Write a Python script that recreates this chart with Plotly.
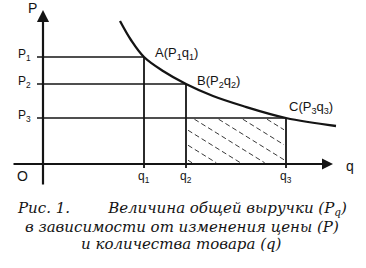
import plotly.graph_objects as go

# ---- data ----
q_levels = [1.01, 1.43, 2.43]          # q1, q2, q3
p_levels = [1.07, 0.80, 0.46]          # P1, P2, P3
q_tick_labels = ["q<sub>1</sub>", "q<sub>2</sub>", "q<sub>3</sub>"]
p_tick_labels = ["P<sub>1</sub>", "P<sub>2</sub>", "P<sub>3</sub>"]
point_labels = ["A(P<sub>1</sub>q<sub>1</sub>)", "B(P<sub>2</sub>q<sub>2</sub>)", "C(P<sub>3</sub>q<sub>3</sub>)"]
curve_q = [0.77, 0.88, 1.01, 1.20, 1.43, 1.70, 2.00, 2.43, 2.93]
curve_p = [1.43, 1.24, 1.07, 0.93, 0.80, 0.68, 0.58, 0.46, 0.38]
caption_lines = [
    "Рис. 1." + "\u00a0" * 8 + "Величина общей выручки (P<sub>q</sub>)",
    "в зависимости от изменения цены (P)",
    "и количества товара (q)",
]
caption_y = [-0.44, -0.63, -0.80]

INK = "#141414"
fig = go.Figure()

# hatch inside rectangle q2..q3, 0..P3 (sloped dashed lines, clipped)
x0, x1, y0, y1 = q_levels[1], q_levels[2], 0.0, p_levels[2]
slope = -0.62
step = 0.15
hx, hy = [], []
b = y0 + 0.05
b_max = y1 - slope * (x1 - x0)
while b < b_max:
    pts = []
    for xe in (x0, x1):
        ye = b + slope * (xe - x0)
        if y0 <= ye <= y1:
            pts.append((xe, ye))
    for ye in (y0, y1):
        xe = x0 + (ye - b) / slope
        if x0 <= xe <= x1:
            pts.append((xe, ye))
    if len(pts) >= 2:
        pts.sort()
        m = 0.02
        hx += [pts[0][0] + m, pts[-1][0] - m, None]
        hy += [pts[0][1] + slope * m, pts[-1][1] - slope * m, None]
    b += step

fig.add_trace(go.Scatter(x=hx, y=hy, mode="lines",
                         line=dict(color="#3a3a3a", width=1, dash="5px,3px"),
                         hoverinfo="skip"))

# guide lines
for q, p in zip(q_levels, p_levels):
    fig.add_trace(go.Scatter(x=[-0.06, q], y=[p, p], mode="lines",
                             line=dict(color=INK, width=1.6), hoverinfo="skip"))
    fig.add_trace(go.Scatter(x=[q, q], y=[p, -0.04], mode="lines",
                             line=dict(color=INK, width=1.8), hoverinfo="skip"))

# demand curve
fig.add_trace(go.Scatter(x=curve_q, y=curve_p, mode="lines",
                         line=dict(color=INK, width=2.3, shape="spline", smoothing=1.0),
                         hoverinfo="skip"))

ann = []
# axes with arrows
ann.append(dict(x=2.90, y=0, ax=-0.31, ay=0, xref="x", yref="y", axref="x", ayref="y",
                showarrow=True, arrowhead=2, arrowsize=1.1, arrowwidth=2, arrowcolor=INK, text=""))
ann.append(dict(x=0, y=1.54, ax=0, ay=-0.22, xref="x", yref="y", axref="x", ayref="y",
                showarrow=True, arrowhead=2, arrowsize=1.1, arrowwidth=2.2, arrowcolor=INK, text=""))

tick_font = dict(family="Liberation Sans, Arial", size=12, color=INK)
big_font = dict(family="Liberation Sans, Arial", size=14, color=INK)
ann.append(dict(x=-0.11, y=1.56, text="P", showarrow=False, font=big_font))
ann.append(dict(x=3.07, y=-0.02, text="q", showarrow=False, font=big_font))
ann.append(dict(x=-0.21, y=-0.12, text="O", showarrow=False, font=big_font))
for q, t in zip(q_levels, q_tick_labels):
    ann.append(dict(x=q, y=-0.13, text=t, showarrow=False, font=tick_font))
for p, t in zip(p_levels, p_tick_labels):
    ann.append(dict(x=-0.19, y=p + 0.02, text=t, showarrow=False, font=tick_font))
offs = [(0.09, 0.04), (0.09, 0.03), (0.01, 0.11)]
for q, p, t, (dx, dy) in zip(q_levels, p_levels, point_labels, offs):
    ann.append(dict(x=q + dx, y=p + dy, text=t, showarrow=False, xanchor="left",
                    font=dict(family="Liberation Sans, Arial", size=13, color=INK)))

cap_font = dict(family="DejaVu Serif", size=15, color=INK)
for t, cy in zip(caption_lines, caption_y):
    ann.append(dict(x=0.497, y=cy, xref="paper", yref="y", text="<i>" + t + "</i>",
                    showarrow=False, font=cap_font))

fig.update_layout(
    width=366, height=268, margin=dict(l=0, r=0, t=0, b=0),
    paper_bgcolor="white", plot_bgcolor="white", showlegend=False,
    xaxis=dict(visible=False, range=[-0.43, 3.23], fixedrange=True),
    yaxis=dict(visible=False, range=[-1.04, 1.64], fixedrange=True),
    annotations=ann,
)
fig.write_html("out.html")
